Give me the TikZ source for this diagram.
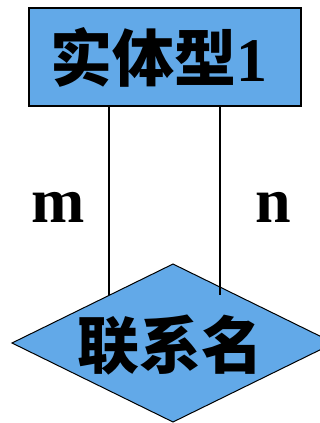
\documentclass[tikz,border=0pt]{standalone}
\usepackage{fontspec}
\setmainfont{Liberation Serif}
\newfontfamily\cjk{Noto Sans CJK SC}
\usetikzlibrary{shapes.geometric}
\definecolor{boxblue}{RGB}{98,169,232}
\tikzset{
  entity/.style={draw=black, line width=1.6pt, fill=boxblue, minimum width=272pt, minimum height=98pt, inner sep=0pt, outer sep=0pt},
  relation/.style={diamond, draw=black, line width=1pt, fill=boxblue, minimum width=322pt, minimum height=158pt, inner sep=0pt, outer sep=0pt, aspect=2.04},
  link/.style={line width=1.3pt, black},
  card/.style={font=\fontsize{64}{64}\selectfont\bfseries, inner sep=0pt}
}
\begin{document}
\begin{tikzpicture}[x=1pt,y=-1pt]
\useasboundingbox (0,0) rectangle (320,423);
\node[entity] (e) at (165,57) {};
\node[font=\fontsize{62}{62}\selectfont, inner sep=0pt] (et) at (159,57) {{\cjk\bfseries 实体型}\textbf{1}};
\node[relation] (r) at (173,343) {};
\node[font=\fontsize{62}{62}\selectfont, inner sep=0pt] (rt) at (170,345) {\cjk\bfseries 联系名};
\coordinate (la) at (109,295);
\coordinate (ra) at (220,295);
\draw[link] (la |- e.south) -- (la);
\draw[link] (ra |- e.south) -- (ra);
\node[card] (m) at (58,207) {m};
\node[card] (n) at (273,207) {n};
\end{tikzpicture}
\end{document}
